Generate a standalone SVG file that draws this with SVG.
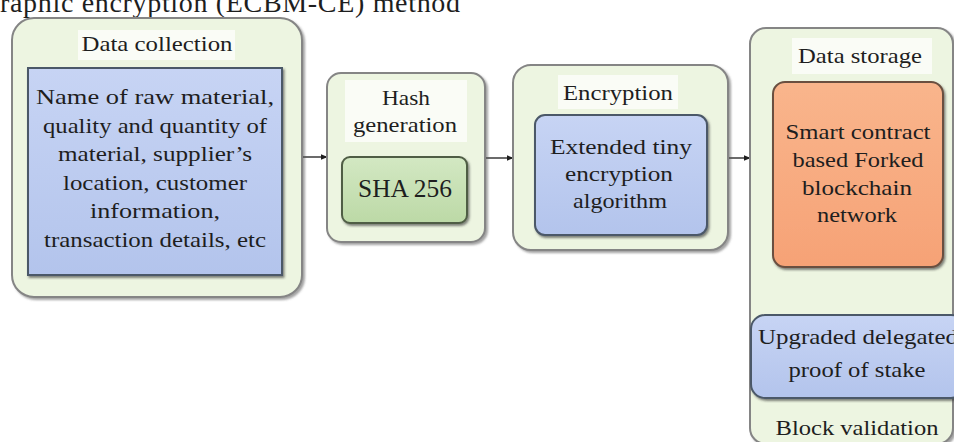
<svg xmlns="http://www.w3.org/2000/svg" width="954" height="442" viewBox="0 0 954 442">
  <defs>
    <style>
      .t text, text.t { font-family: "Liberation Serif", "Times New Roman", serif; fill: #1e1e1e; text-anchor: middle; }
      .lbl { font-size: 22px; }
      .big { font-size: 25px; }
      .outer { fill: #edf5e1; stroke: #858585; stroke-width: 2; filter: url(#shade); }
      .band { fill: #fafcf6; }
      .blue { fill: url(#gBlue); stroke: #4b5868; stroke-width: 2; filter: url(#inset); }
      .green { fill: url(#gGreen); stroke: #4f5d45; stroke-width: 2; filter: url(#inset); }
      .orange { fill: url(#gOrange); stroke: #6a5040; stroke-width: 2; filter: url(#inset); }
      .conn { stroke: #2b2b2b; stroke-width: 1.4; fill: none; marker-end: url(#arr); }
    </style>
    <linearGradient id="gBlue" x1="0" y1="0" x2="0" y2="1">
      <stop offset="0" stop-color="#c7d4f4"/>
      <stop offset="1" stop-color="#b3c4ec"/>
    </linearGradient>
    <linearGradient id="gGreen" x1="0" y1="0" x2="0" y2="1">
      <stop offset="0" stop-color="#d3e8c3"/>
      <stop offset="1" stop-color="#bcd9a6"/>
    </linearGradient>
    <linearGradient id="gOrange" x1="0" y1="0" x2="0" y2="1">
      <stop offset="0" stop-color="#f9b58c"/>
      <stop offset="1" stop-color="#f6a276"/>
    </linearGradient>
    <filter id="shade" x="-5%" y="-5%" width="112%" height="112%">
      <feDropShadow dx="2" dy="2" stdDeviation="1.2" flood-color="#555" flood-opacity="0.55"/>
    </filter>
    <filter id="inset" x="-5%" y="-5%" width="112%" height="112%">
      <feDropShadow dx="1.5" dy="2" stdDeviation="0.8" flood-color="#333" flood-opacity="0.6"/>
    </filter>
    <marker id="arr" viewBox="0 0 10 10" refX="9" refY="5" markerWidth="7" markerHeight="7" markerUnits="userSpaceOnUse" orient="auto">
      <path d="M0,1 L10,5 L0,9 Z" fill="#1e1e1e"/>
    </marker>
  </defs>

  <rect width="954" height="442" fill="#ffffff"/>

  <!-- caption line cut by the top edge -->
  <text class="t" x="0" y="12" font-family="Liberation Serif, serif" style="font-size:28px;text-anchor:start" textLength="460">raphic encryption (ECBM-CE) method</text>

  <!-- connectors -->
  <g id="connectors">
    <line class="conn" x1="302" y1="157" x2="327" y2="157"/>
    <line class="conn" x1="486" y1="158" x2="513" y2="158"/>
    <line class="conn" x1="729" y1="158" x2="750" y2="158"/>
    <line class="conn" x1="858" y1="315" x2="858" y2="267"/>
  </g>

  <!-- Data collection -->
  <g id="data-collection" class="t" font-family="Liberation Serif, serif">
    <rect class="outer" x="12" y="18" width="290" height="279" rx="22"/>
    <rect class="band" x="78" y="30" width="157" height="30"/>
    <text class="lbl" x="157" y="51" textLength="151" lengthAdjust="spacingAndGlyphs">Data collection</text>
    <rect class="blue" x="28" y="68" width="254" height="207"/>
    <text class="lbl" x="155" y="104" textLength="238" lengthAdjust="spacingAndGlyphs">Name of raw material,</text>
    <text class="lbl" x="155" y="133" textLength="224" lengthAdjust="spacingAndGlyphs">quality and quantity of</text>
    <text class="lbl" x="155" y="161" textLength="194" lengthAdjust="spacingAndGlyphs">material, supplier’s</text>
    <text class="lbl" x="155" y="190" textLength="184" lengthAdjust="spacingAndGlyphs">location, customer</text>
    <text class="lbl" x="155" y="218" textLength="130" lengthAdjust="spacingAndGlyphs">information,</text>
    <text class="lbl" x="155" y="247" textLength="222" lengthAdjust="spacingAndGlyphs">transaction details, etc</text>
  </g>

  <!-- Hash generation -->
  <g id="hash-generation" class="t" font-family="Liberation Serif, serif">
    <rect class="outer" x="327" y="73" width="158" height="169" rx="14"/>
    <rect class="band" x="345" y="80" width="122" height="62"/>
    <text class="lbl" x="406" y="105" textLength="48" lengthAdjust="spacingAndGlyphs">Hash</text>
    <text class="lbl" x="405" y="132" textLength="104" lengthAdjust="spacingAndGlyphs">generation</text>
    <rect class="green" x="342" y="157" width="125" height="66" rx="8"/>
    <text class="big" x="405" y="197" textLength="94" lengthAdjust="spacingAndGlyphs">SHA 256</text>
  </g>

  <!-- Encryption -->
  <g id="encryption" class="t" font-family="Liberation Serif, serif">
    <rect class="outer" x="513" y="65" width="215" height="185" rx="18"/>
    <rect class="band" x="558" y="75" width="120" height="34"/>
    <text class="lbl" x="618" y="100" textLength="110" lengthAdjust="spacingAndGlyphs">Encryption</text>
    <rect class="blue" x="535" y="115" width="172" height="120" rx="10"/>
    <text class="lbl" x="621" y="154" textLength="142" lengthAdjust="spacingAndGlyphs">Extended tiny</text>
    <text class="lbl" x="619" y="181" textLength="108" lengthAdjust="spacingAndGlyphs">encryption</text>
    <text class="lbl" x="620" y="208" textLength="94" lengthAdjust="spacingAndGlyphs">algorithm</text>
  </g>

  <!-- Data storage -->
  <g id="data-storage" class="t" font-family="Liberation Serif, serif">
    <rect class="outer" x="750" y="28" width="203" height="416" rx="16"/>
    <rect class="band" x="792" y="38" width="140" height="36"/>
    <text class="lbl" x="860" y="63" textLength="124" lengthAdjust="spacingAndGlyphs">Data storage</text>
    <rect class="orange" x="773" y="82" width="170" height="185" rx="12"/>
    <text class="lbl" x="858" y="139" textLength="145" lengthAdjust="spacingAndGlyphs">Smart contract</text>
    <text class="lbl" x="858" y="167" textLength="131" lengthAdjust="spacingAndGlyphs">based Forked</text>
    <text class="lbl" x="857" y="195" textLength="110" lengthAdjust="spacingAndGlyphs">blockchain</text>
    <text class="lbl" x="857" y="222" textLength="80" lengthAdjust="spacingAndGlyphs">network</text>
  </g>

  <!-- Block validation -->
  <g id="block-validation" class="t" font-family="Liberation Serif, serif">
    <rect class="blue" x="751" y="315" width="214" height="83" rx="14"/>
    <text class="lbl" x="858" y="344" textLength="200" lengthAdjust="spacingAndGlyphs">Upgraded delegated</text>
    <text class="lbl" x="857" y="377" textLength="137" lengthAdjust="spacingAndGlyphs">proof of stake</text>
    <text class="lbl" x="857" y="435" textLength="163" lengthAdjust="spacingAndGlyphs">Block validation</text>
  </g>
</svg>
